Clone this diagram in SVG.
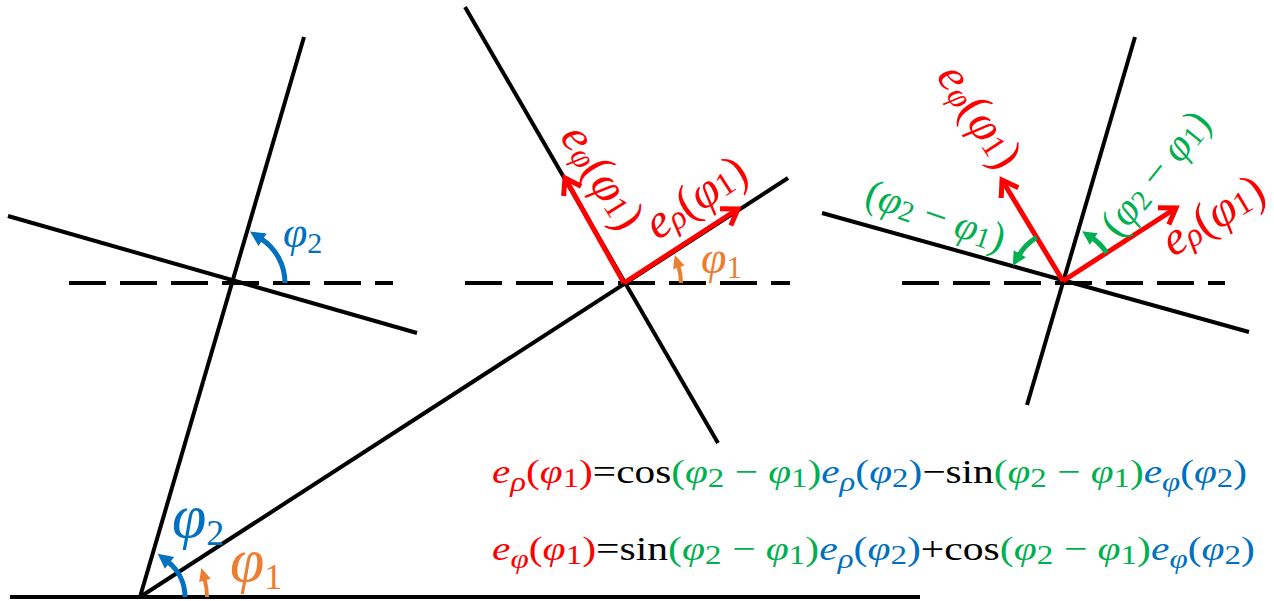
<svg xmlns="http://www.w3.org/2000/svg" width="1274" height="601" viewBox="0 0 1274 601">
<style>
.ln{stroke:#000;stroke-width:4;fill:none}
.dash{stroke:#000;stroke-width:4;stroke-dasharray:37 14;fill:none}
.red{stroke:#FF0000;stroke-width:5;fill:none}
.t{font-family:"Liberation Serif",serif}
.i{font-style:italic}
.eq{font-family:"Liberation Serif",serif;font-size:34px}
.cr{fill:#FF0000}.cb{fill:#0070C0}.cg{fill:#00B050}.co{fill:#ED7D31}.ck{fill:#000}
</style>
<defs>
<marker id="chev" markerUnits="userSpaceOnUse" orient="auto" overflow="visible" markerWidth="1" markerHeight="1" refX="0" refY="0">
<path d="M-15,-10 L0,0 L-15,10" fill="none" stroke="#FF0000" stroke-width="5"/>
</marker>
<marker id="triB" markerUnits="userSpaceOnUse" orient="auto" overflow="visible" markerWidth="1" markerHeight="1" refX="0" refY="0">
<path d="M-2,-7.5 L13,0 L-2,7.5 z" fill="#0070C0"/>
</marker>
<marker id="triO" markerUnits="userSpaceOnUse" orient="auto" overflow="visible" markerWidth="1" markerHeight="1" refX="0" refY="0">
<path d="M-2,-6 L11,0 L-2,6 z" fill="#ED7D31"/>
</marker>
<marker id="triG" markerUnits="userSpaceOnUse" orient="auto" overflow="visible" markerWidth="1" markerHeight="1" refX="0" refY="0">
<path d="M-2,-7 L12,0 L-2,7 z" fill="#00B050"/>
</marker>
</defs>

<g id="lines">
<line class="ln" x1="10" y1="597" x2="920" y2="597"/>
<line class="ln" x1="140" y1="597" x2="304" y2="37"/>
<line class="ln" x1="140" y1="597" x2="788" y2="178"/>
<line class="ln" x1="8" y1="216" x2="417" y2="333"/>
<line class="dash" x1="69" y1="283" x2="393" y2="283"/>
<line class="ln" x1="465" y1="7" x2="718" y2="443"/>
<line class="dash" x1="465" y1="283" x2="790" y2="283"/>
<line class="ln" x1="1135" y1="37" x2="1027" y2="405"/>
<line class="ln" x1="822" y1="213" x2="1249" y2="332"/>
<line class="dash" x1="902" y1="283" x2="1225" y2="283"/>
</g>

<g id="vectors">
<line class="red" x1="624" y1="283" x2="565" y2="178" marker-end="url(#chev)"/>
<line class="red" x1="624" y1="283" x2="738" y2="209" marker-end="url(#chev)"/>
<line class="red" x1="1063" y1="281" x2="1002" y2="180" marker-end="url(#chev)"/>
<line class="red" x1="1063" y1="281" x2="1176" y2="208" marker-end="url(#chev)"/>
</g>

<g id="angle-arcs">
<path d="M285,283 A53,53 0 0 0 260.9,238.6" stroke="#0070C0" stroke-width="5" fill="none" marker-end="url(#triB)"/>
<path d="M185,597 A45,45 0 0 0 167.9,561.7" stroke="#0070C0" stroke-width="5" fill="none" marker-end="url(#triB)"/>
<path d="M207,597 A67,67 0 0 0 204.4,578.5" stroke="#ED7D31" stroke-width="4" fill="none" marker-end="url(#triO)"/>
<path d="M681,283 A57,57 0 0 0 678.2,265.4" stroke="#ED7D31" stroke-width="4" fill="none" marker-end="url(#triO)"/>
<path d="M1036.7,237.3 A51,51 0 0 0 1018.8,255.5" stroke="#00B050" stroke-width="5" fill="none" marker-end="url(#triG)"/>
<path d="M1106.6,252.8 A52,52 0 0 0 1092.1,237.9" stroke="#00B050" stroke-width="5" fill="none" marker-end="url(#triG)"/>
</g>

<g id="angle-labels">
<text class="t cb" x="283" y="247" font-size="44"><tspan class="i">φ</tspan><tspan font-size="30" baseline-shift="-6">2</tspan></text>
<text class="t cb" x="172" y="537" font-size="62"><tspan class="i">φ</tspan><tspan font-size="36" baseline-shift="-8">2</tspan></text>
<text class="t co" x="230" y="581" font-size="62"><tspan class="i">φ</tspan><tspan font-size="36" baseline-shift="-8">1</tspan></text>
<text class="t co" x="701" y="273" font-size="46"><tspan class="i">φ</tspan><tspan font-size="31" baseline-shift="-5">1</tspan></text>
</g>

<g id="vector-labels">
<text class="t cr" font-size="48" text-anchor="middle" dominant-baseline="central" transform="translate(604,176) rotate(58)"><tspan class="i">e</tspan><tspan class="i" font-size="33" baseline-shift="-8">φ</tspan>(<tspan class="i">φ</tspan><tspan font-size="33" baseline-shift="-6">1</tspan>)</text>
<text class="t cr" font-size="48" text-anchor="middle" dominant-baseline="central" transform="translate(695,196) rotate(-33)"><tspan class="i">e</tspan><tspan class="i" font-size="33" baseline-shift="-8">ρ</tspan>(<tspan class="i">φ</tspan><tspan font-size="33" baseline-shift="-6">1</tspan>)</text>
<text class="t cr" font-size="48" text-anchor="middle" dominant-baseline="central" transform="translate(981,115) rotate(57)"><tspan class="i">e</tspan><tspan class="i" font-size="33" baseline-shift="-8">φ</tspan>(<tspan class="i">φ</tspan><tspan font-size="33" baseline-shift="-6">1</tspan>)</text>
<text class="t cr" font-size="48" text-anchor="middle" dominant-baseline="central" transform="translate(1212,214) rotate(-31)"><tspan class="i">e</tspan><tspan class="i" font-size="33" baseline-shift="-8">ρ</tspan>(<tspan class="i">φ</tspan><tspan font-size="33" baseline-shift="-6">1</tspan>)</text>
<text class="t cg" font-size="41" text-anchor="middle" dominant-baseline="central" transform="translate(936,215) rotate(19)">(<tspan class="i">φ</tspan><tspan font-size="29" baseline-shift="-6">2</tspan> − <tspan class="i">φ</tspan><tspan font-size="29" baseline-shift="-6">1</tspan>)</text>
<text class="t cg" font-size="42" text-anchor="middle" dominant-baseline="central" transform="translate(1155,173) rotate(-51)">(<tspan class="i">φ</tspan><tspan font-size="29" baseline-shift="-6">2</tspan> − <tspan class="i">φ</tspan><tspan font-size="29" baseline-shift="-6">1</tspan>)</text>
</g>

<g id="equations">
<text class="eq" x="492" y="483" textLength="755" lengthAdjust="spacingAndGlyphs"><tspan class="cr"><tspan class="i">e</tspan><tspan class="i" font-size="27" baseline-shift="-8">ρ</tspan>(<tspan class="i">φ</tspan><tspan font-size="27" baseline-shift="-4">1</tspan>)</tspan><tspan class="ck">=cos</tspan><tspan class="cg">(<tspan class="i">φ</tspan><tspan font-size="27" baseline-shift="-4">2</tspan> − <tspan class="i">φ</tspan><tspan font-size="27" baseline-shift="-4">1</tspan>)</tspan><tspan class="cb"><tspan class="i">e</tspan><tspan class="i" font-size="27" baseline-shift="-8">ρ</tspan>(<tspan class="i">φ</tspan><tspan font-size="27" baseline-shift="-4">2</tspan>)</tspan><tspan class="ck">−sin</tspan><tspan class="cg">(<tspan class="i">φ</tspan><tspan font-size="27" baseline-shift="-4">2</tspan> − <tspan class="i">φ</tspan><tspan font-size="27" baseline-shift="-4">1</tspan>)</tspan><tspan class="cb"><tspan class="i">e</tspan><tspan class="i" font-size="27" baseline-shift="-8">φ</tspan>(<tspan class="i">φ</tspan><tspan font-size="27" baseline-shift="-4">2</tspan>)</tspan></text>
<text class="eq" x="492" y="560" textLength="763" lengthAdjust="spacingAndGlyphs"><tspan class="cr"><tspan class="i">e</tspan><tspan class="i" font-size="27" baseline-shift="-8">φ</tspan>(<tspan class="i">φ</tspan><tspan font-size="27" baseline-shift="-4">1</tspan>)</tspan><tspan class="ck">=sin</tspan><tspan class="cg">(<tspan class="i">φ</tspan><tspan font-size="27" baseline-shift="-4">2</tspan> − <tspan class="i">φ</tspan><tspan font-size="27" baseline-shift="-4">1</tspan>)</tspan><tspan class="cb"><tspan class="i">e</tspan><tspan class="i" font-size="27" baseline-shift="-8">ρ</tspan>(<tspan class="i">φ</tspan><tspan font-size="27" baseline-shift="-4">2</tspan>)</tspan><tspan class="ck">+cos</tspan><tspan class="cg">(<tspan class="i">φ</tspan><tspan font-size="27" baseline-shift="-4">2</tspan> − <tspan class="i">φ</tspan><tspan font-size="27" baseline-shift="-4">1</tspan>)</tspan><tspan class="cb"><tspan class="i">e</tspan><tspan class="i" font-size="27" baseline-shift="-8">φ</tspan>(<tspan class="i">φ</tspan><tspan font-size="27" baseline-shift="-4">2</tspan>)</tspan></text>
</g>
</svg>
